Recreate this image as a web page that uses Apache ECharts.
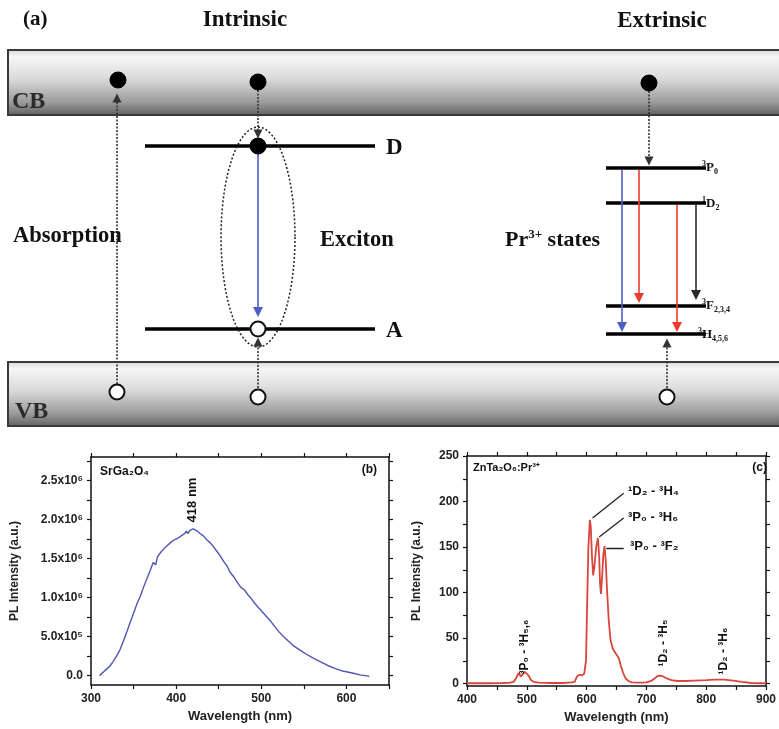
<!DOCTYPE html>
<html><head><meta charset="utf-8">
<script src="https://cdn.jsdelivr.net/npm/echarts@6/dist/echarts.min.js"></script>
<style>html,body{margin:0;padding:0;background:#fff}#chart{width:779px;height:729px}</style>
</head><body><div id="chart"></div>
<script>
// ---------------- data: panel (b) SrGa2O4 ----------------
const srgaWavelength = [
  310,314,318,322,326,330,334,338,342,346,
  350,354,358,362,366,370,373,376,378,382,
  386,390,394,398,402,406,410,412,414,416,
  418,420,422,425,428,432,436,440,444,448,
  452,456,460,463,465,468,472,476,480,484,
  488,492,496,500,505,510,515,520,526,532,
  538,545,552,560,569,578,587,595,600,608,
  616,622,627];
const srgaIntensity = [
  0,0.04e6,0.08e6,0.12e6,0.18e6,0.25e6,0.33e6,0.44e6,0.56e6,0.68e6,
  0.80e6,0.92e6,1.02e6,1.14e6,1.25e6,1.36e6,1.45e6,1.42e6,1.52e6,1.58e6,
  1.63e6,1.67e6,1.71e6,1.74e6,1.76e6,1.79e6,1.82e6,1.85e6,1.82e6,1.86e6,
  1.87e6,1.88e6,1.86e6,1.85e6,1.82e6,1.79e6,1.74e6,1.70e6,1.65e6,1.59e6,
  1.53e6,1.46e6,1.40e6,1.33e6,1.31e6,1.26e6,1.19e6,1.13e6,1.10e6,1.04e6,
  0.99e6,0.93e6,0.88e6,0.83e6,0.77e6,0.71e6,0.64e6,0.57e6,0.50e6,0.44e6,
  0.38e6,0.33e6,0.28e6,0.23e6,0.18e6,0.13e6,0.09e6,0.06e6,0.05e6,0.03e6,
  0.01e6,0,-0.01e6];
const srgaXLabels = [300,400,500,600];
const srgaXTicks = [300,350,400,450,500,550,600,650];
const srgaYLabels = [0,5e5,1e6,1.5e6,2e6,2.5e6];
const srgaYLabelText = ['0.0','5.0x10⁵','1.0x10⁶','1.5x10⁶','2.0x10⁶','2.5x10⁶'];
const srgaYTicks = [0,2.5e5,5e5,7.5e5,1e6,1.25e6,1.5e6,1.75e6,2e6,2.25e6,2.5e6,2.75e6];

// ---------------- data: panel (c) ZnTa2O6:Pr3+ ----------------
const prWavelength = [
  400,420,440,460,470,478,482,486,490,493,
  497,500,503,507,512,520,540,560,575,580,
  584,588,592,596,599,601,603,605.5,607,609,
  611,613,616,619,621,622.5,624,626,628,630,
  632,634,637,640,644,648,651,654,657,661,
  665,670,676,684,692,700,708,714,719,723,
  728,735,742,752,765,780,800,815,830,845,
  860,875,890,900];
const prIntensity = [
  0.5,0.5,0.5,0.8,1,2,6,11.5,8,8,
  13,14,9,4,2,1.2,0.8,0.8,1.5,2,
  8,10,9,11,25,90,150,180,172,140,
  119,128,150,160,140,110,98.5,118,142,151,
  135,105,70,48,38,34,33,28,20,12,
  6,3,1.5,1.2,1.2,1.5,3,6,8.5,9,
  8,5.5,4,3,3,3.5,4,4.5,4.5,3.5,
  2,0.8,0.5,0.5];
const prXLabels = [400,500,600,700,800,900];
const prXTicks = [400,450,500,550,600,650,700,750,800,850,900];
const prYLabels = [0,50,100,150,200,250];
const prYTicks = [0,25,50,75,100,125,150,175,200,225,250];
// leader lines from peak to annotation text (data coords of panel c)
const prLeaders = [
  [[610,182],[662,209]],
  [[621,161],[662,182]],
  [[633,149],[662,149]]
];

// ---------------- schematic (a): energy-level diagram ----------------
const bandRects = [[8,50,800,115],[8,362,800,426]];   // CB, VB
const levelLines = [
  [[145,146],[375,146]], [[145,329],[375,329]],
  [[606,168],[706,168]], [[606,203],[706,203]],
  [[606,306],[706,306]], [[606,334],[706,334]]
];
const dottedArrows = [
  [[117,384],[117,98]], [[258,90],[258,134]], [[258,388],[258,342]],
  [[649,91],[649,161]], [[667,388],[667,343]]
];
const colorArrows = [
  {c:[[258,154],[258,312]], col:'#4d5fc2'},
  {c:[[622,170],[622,327]], col:'#4d5fc2'},
  {c:[[639,170],[639,298]], col:'#ee3a2c'},
  {c:[[677,205],[677,327]], col:'#ee3a2c'},
  {c:[[696,205],[696,295]], col:'#2a2a2a'}
];
const electrons = [[118,80],[258,82],[649,83],[258,146]];
const holes = [[117,392],[258,397],[667,397],[258,329]];
const excitonEllipse = [[258,237,37,110]];

// ---------------- build ----------------
const zip = (a,b) => a.map((v,i)=>[v,b[i]]);
const sans = 'Liberation Sans';
const serif = 'Liberation Serif';
const axisCol = '#111';

function mkX(grid, min, max, labels, ticks, pos, name) {
  return {
    gridIndex: grid, type:'value', min, max, position: pos,
    axisLine:{show:true, onZero:false, lineStyle:{color:axisCol, width:1.5}},
    axisTick:{show:true, inside:false, length:4, customValues:ticks, lineStyle:{color:axisCol, width:1.2}},
    axisLabel:{show: pos==='bottom', customValues:labels, margin:8, fontSize:12, fontWeight:'bold', fontFamily:sans, color:'#222'},
    splitLine:{show:false},
    name: name || '', nameLocation:'middle', nameGap:25,
    nameTextStyle:{fontSize:13, fontWeight:'bold', fontFamily:sans, color:'#222'}
  };
}
function mkY(grid, min, max, labels, ticks, pos, name, gap, fmt) {
  return {
    gridIndex: grid, type:'value', min, max, position: pos,
    axisLine:{show:true, onZero:false, lineStyle:{color:axisCol, width:1.5}},
    axisTick:{show:true, inside:false, length:4, customValues:ticks, lineStyle:{color:axisCol, width:1.2}},
    axisLabel:{show: pos==='left', customValues:labels, margin:8, fontSize:12, fontWeight:'bold', fontFamily:sans, color:'#222', formatter: fmt},
    splitLine:{show:false},
    name: name || '', nameLocation:'middle', nameGap:gap || 40,
    nameTextStyle:{fontSize:12, fontWeight:'bold', fontFamily:sans, color:'#222'}
  };
}
const srgaFmt = v => { const i = srgaYLabels.indexOf(v); return i>=0 ? srgaYLabelText[i] : ''; };

function txt(x, y, text, font, align, vAlign, rot, fill, rich) {
  const st = {text, font, fill: fill || '#111', align: align||'left', verticalAlign: vAlign||'middle',
           textAlign: align||'left', textVerticalAlign: vAlign||'middle'};
  if (rich) st.rich = rich;
  return {type:'text', x, y, rotation: rot || 0, z: 100, style: st};
}
const bSerif = s => 'bold ' + s + 'px "' + serif + '"';
const bSans = s => 'bold ' + s + 'px "' + sans + '"';
const levelRich = {
  m:{fontSize:13, fontWeight:'bold', fontFamily:serif, color:'#111', lineHeight:16},
  s:{fontSize:8, fontWeight:'bold', fontFamily:serif, color:'#111', verticalAlign:'top', lineHeight:16},
  b:{fontSize:8, fontWeight:'bold', fontFamily:serif, color:'#111', verticalAlign:'bottom', lineHeight:16}
};
const prRich = {
  m:{fontSize:22, fontWeight:'bold', fontFamily:serif, color:'#111', lineHeight:24},
  s:{fontSize:13, fontWeight:'bold', fontFamily:serif, color:'#111', verticalAlign:'top', lineHeight:24}
};

const option = {
  backgroundColor:'#fff',
  animation:false,
  grid:[
    {left:91, right:390, top:457, bottom:44},
    {left:467, right:7, top:456, bottom:43},
    {left:0, right:0, top:0, bottom:0}
  ],
  xAxis:[
    mkX(0,300,650,srgaXLabels,srgaXTicks,'bottom','Wavelength (nm)'),
    mkX(0,300,650,srgaXLabels,srgaXTicks,'top'),
    mkX(1,400,900,prXLabels,prXTicks,'bottom','Wavelength (nm)'),
    mkX(1,400,900,prXLabels,prXTicks,'top'),
    {gridIndex:2, type:'value', min:0, max:779, show:false}
  ],
  yAxis:[
    mkY(0,-1.2e5,2.8e6,srgaYLabels,srgaYTicks,'left','PL Intensity (a.u.)',70,srgaFmt),
    mkY(0,-1.2e5,2.8e6,srgaYLabels,srgaYTicks,'right'),
    mkY(1,-2.5,250,prYLabels,prYTicks,'left','PL Intensity (a.u.)',44),
    mkY(1,-2.5,250,prYLabels,prYTicks,'right'),
    {gridIndex:2, type:'value', min:0, max:729, inverse:true, show:false}
  ],
  series:[
    // schematic bands
    {type:'custom', xAxisIndex:4, yAxisIndex:4, z:1, silent:true, data: bandRects,
     renderItem:(p, api) => {
       const a = api.coord([api.value(0), api.value(1)]);
       const b = api.coord([api.value(2), api.value(3)]);
       return {type:'rect', shape:{x:a[0], y:a[1], width:b[0]-a[0], height:b[1]-a[1]},
         style:{fill: new echarts.graphic.LinearGradient(0,0,0,1,[
           {offset:0,color:'#d6d6d6'},{offset:0.12,color:'#f7f7f7'},{offset:0.45,color:'#d9d9d9'},
           {offset:0.8,color:'#9a9a9a'},{offset:1,color:'#5e5e5e'}]), stroke:'#3a3a3a', lineWidth:2}};
     }},
    // energy levels
    {type:'lines', coordinateSystem:'cartesian2d', xAxisIndex:4, yAxisIndex:4, z:3, silent:true,
     symbol:'none', lineStyle:{color:'#000', width:3.5, opacity:1},
     data: levelLines.map(c => ({coords:c}))},
    // exciton ellipse
    {type:'custom', xAxisIndex:4, yAxisIndex:4, z:4, silent:true, data: excitonEllipse,
     renderItem:(p, api) => {
       const cx = api.value(0), cy = api.value(1), rx = api.value(2), ry = api.value(3);
       const pts = [];
       for (let k = 0; k <= 96; k++) { const t = k/96*Math.PI*2; pts.push(api.coord([cx + rx*Math.cos(t), cy + ry*Math.sin(t)])); }
       return {type:'polyline', shape:{points:pts}, style:{stroke:'#222', lineWidth:1.5, lineDash:[2,2], fill:null}};
     }},
    // dotted transfer arrows
    {type:'lines', coordinateSystem:'cartesian2d', xAxisIndex:4, yAxisIndex:4, z:5, silent:true,
     symbol:['none','triangle'], symbolSize:9,
     lineStyle:{color:'#333', width:1.6, type:[2,1.5], opacity:1},
     data: dottedArrows.map(c => ({coords:c}))},
    // radiative transitions
    {type:'lines', coordinateSystem:'cartesian2d', xAxisIndex:4, yAxisIndex:4, z:5, silent:true,
     symbol:['none','triangle'], symbolSize:10,
     data: colorArrows.map(a => ({coords:a.c, lineStyle:{color:a.col, width:1.6, opacity:1}}))},
    // electrons
    {type:'scatter', xAxisIndex:4, yAxisIndex:4, z:6, silent:true, symbol:'circle', symbolSize:16,
     itemStyle:{color:'#000', borderColor:'#000', borderWidth:1, opacity:1}, data: electrons},
    // holes
    {type:'scatter', xAxisIndex:4, yAxisIndex:4, z:6, silent:true, symbol:'circle', symbolSize:15,
     itemStyle:{color:'#fff', borderColor:'#111', borderWidth:2, opacity:1}, data: holes},
    // spectrum (b)
    {type:'line', xAxisIndex:0, yAxisIndex:0, showSymbol:false, z:10, silent:true,
     lineStyle:{color:'#4e56b4', width:1.4}, data: zip(srgaWavelength, srgaIntensity)},
    // spectrum (c)
    {type:'line', xAxisIndex:2, yAxisIndex:2, showSymbol:false, z:10, silent:true,
     lineStyle:{color:'#d9463d', width:1.8}, data: zip(prWavelength, prIntensity)},
    // leader lines (c)
    {type:'lines', coordinateSystem:'cartesian2d', xAxisIndex:2, yAxisIndex:2, z:11, silent:true,
     symbol:'none', lineStyle:{color:'#222', width:1.3, opacity:1},
     data: prLeaders.map(c => ({coords:c}))}
  ],
  graphic:[
    txt(23, 20, '(a)', bSerif(21)),
    txt(245, 20, 'Intrinsic', bSerif(23), 'center'),
    txt(662, 21, 'Extrinsic', bSerif(23), 'center'),
    txt(12, 102, 'CB', bSerif(24), 'left', 'middle', 0, '#2b2b2b'),
    txt(15, 412, 'VB', bSerif(24), 'left', 'middle', 0, '#2b2b2b'),
    txt(13, 236, 'Absorption', bSerif(22.5)),
    txt(320, 240, 'Exciton', bSerif(22.5)),
    txt(505, 240, '{m|Pr}{s|3+}{m| states}', bSerif(22), 'left', 'middle', 0, '#111', prRich),
    txt(386, 148, 'D', bSerif(23)),
    txt(386, 331, 'A', bSerif(23)),
    txt(702, 168, '{s|3}{m|P}{b|0}', bSerif(13), 'left', 'middle', 0, '#111', levelRich),
    txt(702, 204, '{s|1}{m|D}{b|2}', bSerif(13), 'left', 'middle', 0, '#111', levelRich),
    txt(702, 306, '{s|3}{m|F}{b|2,3,4}', bSerif(13), 'left', 'middle', 0, '#111', levelRich),
    txt(698, 335, '{s|3}{m|H}{b|4,5,6}', bSerif(13), 'left', 'middle', 0, '#111', levelRich),
    // panel b annotations
    txt(100, 472, 'SrGa₂O₄', bSans(12)),
    txt(377, 470, '(b)', bSans(12), 'right'),
    txt(192, 500, '418 nm', bSans(13), 'center', 'middle', Math.PI/2),
    // panel c annotations
    txt(473, 468, 'ZnTa₂O₆:Pr³⁺', bSans(11)),
    txt(767, 468, '(c)', bSans(12), 'right'),
    txt(628, 491, '¹D₂ - ³H₄', bSans(13)),
    txt(628, 517, '³P₀ - ³H₆', bSans(13)),
    txt(630, 546, '³P₀ - ³F₂', bSans(13)),
    txt(525, 647, '³P₀ - ³H₅,₆', bSans(12), 'center', 'middle', Math.PI/2),
    txt(664, 643, '¹D₂ - ³H₅', bSans(12), 'center', 'middle', Math.PI/2),
    txt(724, 651, '¹D₂ - ³H₆', bSans(12), 'center', 'middle', Math.PI/2)
  ]
};
const chart = echarts.init(document.getElementById('chart'), null, {renderer:'canvas'});
chart.setOption(option);
</script></body></html>
